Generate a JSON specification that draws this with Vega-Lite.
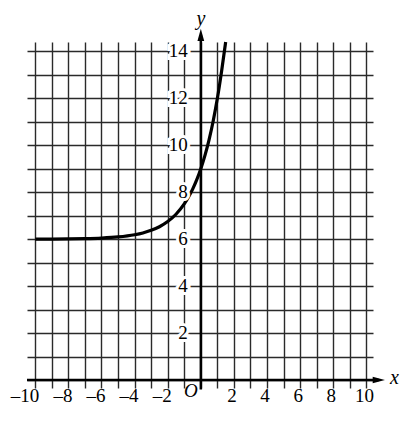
{
  "$schema": "https://vega.github.io/schema/vega-lite/v6.json",
  "width": 346,
  "height": 338,
  "autosize": {"type": "none"},
  "padding": {"left": 27, "top": 42, "right": 42, "bottom": 52},
  "config": {"view": {"stroke": null}, "font": "Liberation Serif"},
  "datasets": {
    "curve": [
      {"x": -10, "y": 6.003}, {"x": -9, "y": 6.006}, {"x": -8, "y": 6.012},
      {"x": -7, "y": 6.023}, {"x": -6, "y": 6.047}, {"x": -5, "y": 6.094},
      {"x": -4, "y": 6.188}, {"x": -3.5, "y": 6.265}, {"x": -3, "y": 6.375},
      {"x": -2.5, "y": 6.53}, {"x": -2, "y": 6.75}, {"x": -1.5, "y": 7.061},
      {"x": -1, "y": 7.5}, {"x": -0.75, "y": 7.784}, {"x": -0.5, "y": 8.121},
      {"x": -0.25, "y": 8.523}, {"x": 0, "y": 9}, {"x": 0.25, "y": 9.568},
      {"x": 0.5, "y": 10.243}, {"x": 0.75, "y": 11.045}, {"x": 1, "y": 12},
      {"x": 1.25, "y": 13.135}, {"x": 1.5, "y": 14.4}
    ],
    "xlabels": [
      {"v": -10, "t": "–10"}, {"v": -8, "t": "–8"}, {"v": -6, "t": "–6"},
      {"v": -4, "t": "–4"}, {"v": -2, "t": "–2"}, {"v": 2, "t": "2"},
      {"v": 4, "t": "4"}, {"v": 6, "t": "6"}, {"v": 8, "t": "8"}, {"v": 10, "t": "10"}
    ],
    "ylabels": [
      {"v": 2}, {"v": 4}, {"v": 6}, {"v": 8}, {"v": 10}, {"v": 12}, {"v": 14}
    ],
    "one": [{"k": 1}]
  },
  "layer": [
    {
      "data": {"name": "curve"},
      "mark": {"type": "line", "color": "black", "strokeWidth": 3.2, "interpolate": "monotone"},
      "encoding": {
        "x": {
          "field": "x", "type": "quantitative",
          "scale": {"domain": [-10.5, 10.4], "nice": false, "zero": false},
          "axis": {
            "values": [-10, -9, -8, -7, -6, -5, -4, -3, -2, -1, 0, 1, 2, 3, 4, 5, 6, 7, 8, 9, 10],
            "tickCount": 40,
            "grid": true, "gridColor": "#2a2a2a", "gridWidth": 1.4, "gridOpacity": 1,
            "labels": false, "domain": false, "ticks": true, "tickSize": 8,
            "tickColor": "#2a2a2a", "tickWidth": 1.4, "title": null
          }
        },
        "y": {
          "field": "y", "type": "quantitative",
          "scale": {"domain": [0, 14.4], "nice": false, "zero": false},
          "axis": {
            "values": [0, 1, 2, 3, 4, 5, 6, 7, 8, 9, 10, 11, 12, 13, 14],
            "tickCount": 40,
            "grid": true, "gridColor": "#2a2a2a", "gridWidth": 1.4, "gridOpacity": 1,
            "labels": false, "domain": false, "ticks": false, "title": null
          }
        }
      }
    },
    {
      "data": {"name": "one"},
      "mark": {"type": "rule", "color": "black", "strokeWidth": 2.5},
      "encoding": {
        "x": {"datum": -10.5, "type": "quantitative"},
        "x2": {"datum": 10.75},
        "y": {"datum": 0, "type": "quantitative"}
      }
    },
    {
      "data": {"name": "one"},
      "mark": {"type": "rule", "color": "black", "strokeWidth": 2.5},
      "encoding": {
        "x": {"datum": 0, "type": "quantitative"},
        "y": {"datum": -0.4, "type": "quantitative"},
        "y2": {"datum": 14.7}
      }
    },
    {
      "data": {"name": "one"},
      "mark": {"type": "point", "filled": true, "color": "black", "opacity": 1, "size": 150, "shape": "M0,-1L0.55,1L-0.55,1Z"},
      "encoding": {
        "x": {"datum": 0, "type": "quantitative"},
        "y": {"datum": 14.7, "type": "quantitative"}
      }
    },
    {
      "data": {"name": "one"},
      "mark": {"type": "point", "filled": true, "color": "black", "opacity": 1, "size": 150, "shape": "M1,0L-1,0.55L-1,-0.55Z"},
      "encoding": {
        "x": {"datum": 10.75, "type": "quantitative"},
        "y": {"datum": 0, "type": "quantitative"}
      }
    },
    {
      "data": {"name": "ylabels"},
      "mark": {"type": "text", "align": "right", "baseline": "middle", "dx": -13, "fontSize": 19, "stroke": "white", "strokeWidth": 6, "fill": "white"},
      "encoding": {
        "x": {"datum": 0, "type": "quantitative"},
        "y": {"field": "v", "type": "quantitative"},
        "text": {"field": "v", "type": "quantitative"}
      }
    },
    {
      "data": {"name": "ylabels"},
      "mark": {"type": "text", "align": "right", "baseline": "middle", "dx": -13, "fontSize": 19, "color": "black"},
      "encoding": {
        "x": {"datum": 0, "type": "quantitative"},
        "y": {"field": "v", "type": "quantitative"},
        "text": {"field": "v", "type": "quantitative"}
      }
    },
    {
      "data": {"name": "xlabels"},
      "transform": [{"filter": "datum.v < 0"}],
      "mark": {"type": "text", "align": "right", "baseline": "middle", "dx": 4, "dy": 16, "fontSize": 19, "color": "black"},
      "encoding": {
        "x": {"field": "v", "type": "quantitative"},
        "y": {"datum": 0, "type": "quantitative"},
        "text": {"field": "t"}
      }
    },
    {
      "data": {"name": "xlabels"},
      "transform": [{"filter": "datum.v > 0"}],
      "mark": {"type": "text", "align": "center", "baseline": "middle", "dx": -2, "dy": 16, "fontSize": 19, "color": "black"},
      "encoding": {
        "x": {"field": "v", "type": "quantitative"},
        "y": {"datum": 0, "type": "quantitative"},
        "text": {"field": "t"}
      }
    },
    {
      "data": {"name": "one"},
      "mark": {"type": "text", "align": "center", "baseline": "middle", "dx": -10, "dy": 11, "fontSize": 19, "fontStyle": "italic", "color": "black", "text": "O"},
      "encoding": {
        "x": {"datum": 0, "type": "quantitative"},
        "y": {"datum": 0, "type": "quantitative"}
      }
    },
    {
      "data": {"name": "one"},
      "mark": {"type": "text", "align": "center", "baseline": "middle", "fontSize": 20, "fontStyle": "italic", "color": "black", "text": "x"},
      "encoding": {
        "x": {"datum": 11.7, "type": "quantitative"},
        "y": {"datum": 0.1, "type": "quantitative"}
      }
    },
    {
      "data": {"name": "one"},
      "mark": {"type": "text", "align": "center", "baseline": "middle", "fontSize": 20, "fontStyle": "italic", "color": "black", "text": "y"},
      "encoding": {
        "x": {"datum": 0, "type": "quantitative"},
        "y": {"datum": 15.4, "type": "quantitative"}
      }
    }
  ]
}
